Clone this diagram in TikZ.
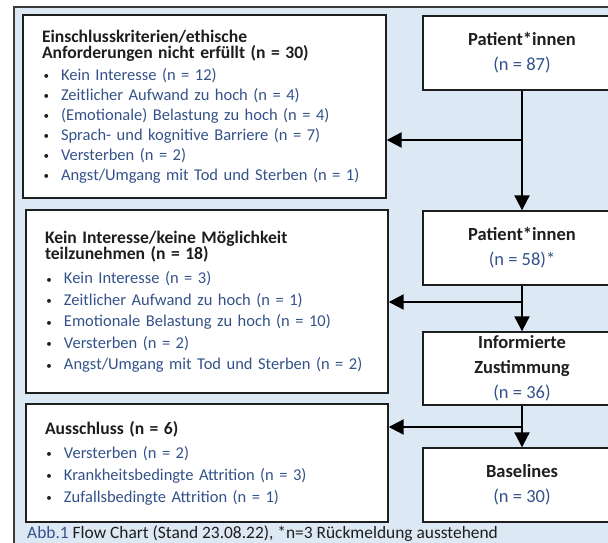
\documentclass[tikz,border=0pt]{standalone}
\usepackage{fontspec}
\setmainfont{Carlito}
\usetikzlibrary{arrows.meta}
\definecolor{ink}{HTML}{1E1E1E}
\definecolor{navy}{HTML}{34528A}
\definecolor{panel}{HTML}{DDE8F5}
\definecolor{frame}{HTML}{3A3A3A}
\newcommand\itm{\makebox[19pt][l]{\hspace{1.5pt}\raisebox{0.5pt}{\color{ink}\fontsize{11}{11}\selectfont\textbullet}}}
\newcommand\hd{\color{ink}\fontsize{17.6}{20}\selectfont\bfseries}

\begin{document}
\begin{tikzpicture}[x=1pt,y=-1pt,text=navy,>=Latex,
  box/.style={draw=ink,line width=1.4pt,fill=white},
  crit/.style={box,align=left,text width=325pt,inner xsep=19pt,inner ysep=0pt},
  flow/.style={box,align=center,minimum width=198pt,minimum height=74pt,
    font=\fontsize{18.5}{25}\selectfont},
  arr/.style={line width=2.2pt,-{Triangle[length=15pt,width=15pt]}}]
  \clip (0,0) rectangle (608,542);
  \fill[panel,draw=frame,line width=2pt] (14,7) rectangle (660,600);

  \node[crit,minimum height=183pt,font=\fontsize{16.5}{20}\selectfont]
    (E1) at (204.5,106.5)
    {{\hd Einschlusskriterien/ethische\\[-3.5pt]
      Anforderungen nicht erfüllt (n = 30)}\\[1.5pt]
     \itm Kein Interesse (n = 12)\\
     \itm Zeitlicher Aufwand zu hoch (n = 4)\\
     \itm (Emotionale) Belastung zu hoch (n = 4)\\
     \itm Sprach- und kognitive Barriere (n = 7)\\
     \itm Versterben (n = 2)\\
     \itm Angst/Umgang mit Tod und Sterben (n = 1)};
  \node[crit,text width=324pt,minimum height=183pt,
        font=\fontsize{16.5}{21.5}\selectfont]
    (E2) at (207,301.5)
    {{\hd Kein Interesse/keine Möglichkeit\\[-5pt]
      teilzunehmen (n = 18)}\\[2.5pt]
     \itm Kein Interesse (n = 3)\\
     \itm Zeitlicher Aufwand zu hoch (n = 1)\\
     \itm Emotionale Belastung zu hoch (n = 10)\\
     \itm Versterben (n = 2)\\
     \itm Angst/Umgang mit Tod und Sterben (n = 2)};
  \node[crit,text width=324pt,minimum height=118pt,
        font=\fontsize{16.5}{22}\selectfont]
    (E3) at (207,463)
    {{\hd Ausschluss (n = 6)}\\[2pt]
     \itm Versterben (n = 2)\\
     \itm Krankheitsbedingte Attrition (n = 3)\\
     \itm Zufallsbedingte Attrition (n = 1)};

  \node[flow] (P1) at (522,53)
    {{\color{ink}\bfseries Patient*innen}\\(n = 87)};
  \node[flow] (P2) at (522,248)
    {{\color{ink}\bfseries Patient*innen}\\(n = 58)*};
  \node[flow,minimum height=73pt] (IZ) at (522,368.5)
    {{\color{ink}\bfseries Informierte}\\{\color{ink}\bfseries Zustimmung}\\(n = 36)};
  \node[flow] (BL) at (522,485)
    {{\color{ink}\bfseries Baselines}\\(n = 30)};

  \coordinate (J1) at (522,140);
  \coordinate (J2) at (522,302);
  \coordinate (J3) at (522,427);
  \draw[arr] (P1) -- (P2);
  \draw[arr] (J1) -- (J1 -| E1.east);
  \draw[arr] (P2) -- (IZ);
  \draw[arr] (J2) -- (J2 -| E2.east);
  \draw[arr] (IZ) -- (BL);
  \draw[arr] (J3) -- (J3 -| E3.east);

  \node[anchor=base west,inner sep=0pt,text=ink,font=\fontsize{17.4}{20}\selectfont]
    (cap) at (27,538)
    {{\color{navy}Abb.1} Flow Chart (Stand 23.08.22), *n=3 Rückmeldung ausstehend};
\end{tikzpicture}
\end{document}
